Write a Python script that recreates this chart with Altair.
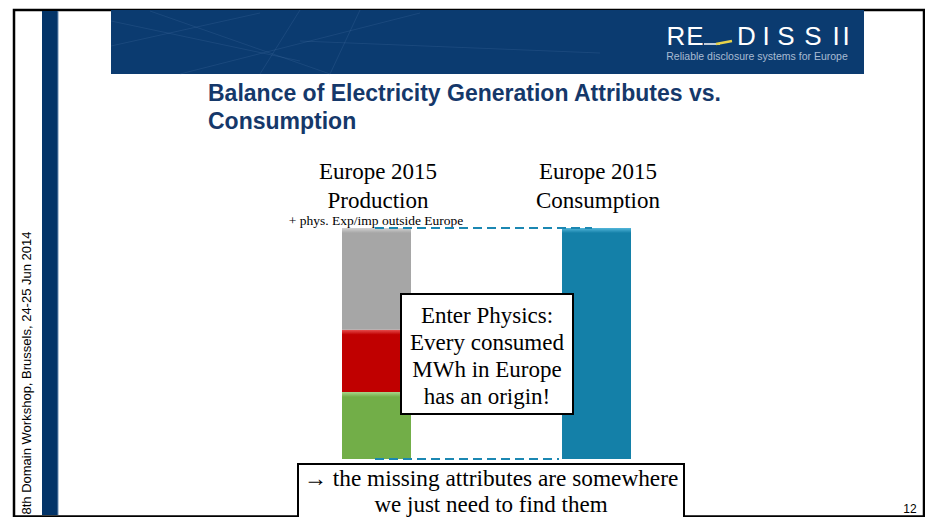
import altair as alt
import pandas as pd

# ---- data ----
columns = ["Production", "Consumption"]
segments = ["Green", "Red", "Grey", "Consumption"]
segment_column = ["Production", "Production", "Production", "Consumption"]
segment_values = [29, 27, 44, 100]
segment_order = [1, 2, 3, 1]
segment_colors = ["#72AE48", "#C00000", "#A6A6A6", "#1480A8"]
segment_highlight = ["#A8D48A", "#E85050", "#D2D2D2", "#52B6DA"]

title_lines = ["Balance of Electricity Generation Attributes vs.", "Consumption"]
col_labels = [["Europe 2015", "Production"], ["Europe 2015", "Consumption"]]
note = "+ phys. Exp/imp outside Europe"
physics_lines = ["Enter Physics:", "Every consumed", "MWh in Europe", "has an origin!"]
bottom_lines = ["\u2192 the missing attributes are somewhere", "we just need to find them"]
side_text = "8th Domain Workshop, Brussels, 24-25 Jun 2014"
page_no = "12"
logo_letters = ["R", "E", "D", "I", "S", "S", "I", "I"]
logo_sub = "Reliable disclosure systems for Europe"

df = pd.DataFrame({
    "column": segment_column,
    "segment": segments,
    "value": segment_values,
    "order": segment_order,
})

one = pd.DataFrame({"k": [0]})

def px(X):
    return X - 8

def py(Y):
    return Y - 8

def rect(x1, y1, x2, y2, fill, stroke=None, sw=0, opacity=1):
    kw = dict(fill=fill, opacity=opacity)
    if stroke:
        kw.update(stroke=stroke, strokeWidth=sw)
    else:
        kw.update(strokeWidth=0)
    return alt.Chart(one).mark_rect(**kw).encode(
        x=alt.value(px(x1)), x2=alt.value(px(x2)),
        y=alt.value(py(y1)), y2=alt.value(py(y2)))

def text(t, X, Y, size, font="Liberation Serif", color="black", align="center",
         baseline="middle", weight="normal", angle=0):
    kw = dict(text=t, fontSize=size, font=font, color=color, align=align,
              baseline=baseline, fontWeight=weight)
    if angle:
        kw["angle"] = angle
    return alt.Chart(one).mark_text(**kw).encode(
        x=alt.value(px(X)), y=alt.value(py(Y)))

def line(x1, y1, x2, y2, color, w=1, opacity=1):
    return alt.Chart(one).mark_rule(color=color, strokeWidth=w, opacity=opacity).encode(
        x=alt.value(px(x1)), x2=alt.value(px(x2)),
        y=alt.value(py(y1)), y2=alt.value(py(y2)))

layers = []
# slide frame
layers.append(rect(14, 9, 924, 515.5, "white", "black", 2.5))
# left sidebar
layers.append(rect(42, 10, 58, 514, "#033468"))
layers.append(line(58, 10, 58, 514, "#6F8FB5", 1))
# banner
layers.append(rect(111, 9, 864, 73, "#0B3B70"))
for (a, b, c, d) in [(111, 20, 300, 60), (150, 10, 330, 73), (180, 73, 420, 12),
                     (111, 45, 260, 12), (260, 73, 300, 9), (330, 73, 360, 9),
                     (300, 40, 600, 52)]:
    layers.append(line(a, b, c, d, "#5C86B8", 1, 0.18))
# logo
for ch, X in zip(logo_letters, [676, 695, 746.5, 766, 786, 813, 836, 846]):
    layers.append(text(ch, X, 44, 26, font="Liberation Sans", color="white",
                       baseline="alphabetic"))
layers.append(line(704, 43, 720, 43, "white", 1.5))
layers.append(line(716, 43, 732, 40, "#E8D24A", 2.5))
layers.append(text(logo_sub, 757, 56, 10.5, font="Liberation Sans", color="#A9BBD3"))
# title
layers.append(text(title_lines[0], 208, 93, 23, font="Liberation Sans", color="#15386A",
                   align="left", weight="bold"))
layers.append(text(title_lines[1], 208, 121, 23, font="Liberation Sans", color="#15386A",
                   align="left", weight="bold"))
# column labels
for lab, X in zip(col_labels, [378, 598]):
    layers.append(text(lab[0], X, 171, 23))
    layers.append(text(lab[1], X, 200, 23))
layers.append(text(note, 376, 220, 13.5))

# bars (stacked, one layer per segment so each gets its bevel highlight)
xs = alt.X("column:N", axis=None,
           scale=alt.Scale(domain=columns, range=[px(342), px(631)],
                           paddingInner=0.6864, paddingOuter=0))
ys = alt.Scale(domain=[0, 100], range=[py(458), py(227)], nice=False)
stacked = alt.Chart(df).transform_stack(
    stack="value", groupby=["column"], sort=[alt.SortField("order")], as_=["v0", "v1"])
px_per_unit = (458 - 227) / 100.0
for seg, val, col, hi in zip(segments, segment_values, segment_colors, segment_highlight):
    f = min(0.5, 5.0 / (val * px_per_unit))
    grad = alt.Gradient(gradient="linear", x1=0, x2=0, y1=0, y2=1, stops=[
        alt.GradientStop(color=hi, offset=0),
        alt.GradientStop(color=col, offset=f),
        alt.GradientStop(color=col, offset=1),
    ])
    layers.append(
        stacked.transform_filter(alt.datum.segment == seg)
        .mark_bar(color=grad)
        .encode(x=xs, y=alt.Y("v0:Q", axis=None, scale=ys), y2="v1:Q")
    )

# dashed balance lines
layers.append(alt.Chart(one).mark_rule(color="#1B87B2", strokeWidth=2, strokeDash=[9, 5]).encode(
    x=alt.value(px(375)), x2=alt.value(px(592)), y=alt.datum(100)))
layers.append(alt.Chart(one).mark_rule(color="#1B87B2", strokeWidth=2, strokeDash=[9, 5]).encode(
    x=alt.value(px(375)), x2=alt.value(px(559)), y=alt.datum(0)))

# physics box
layers.append(rect(401, 293, 573, 413, "white", "black", 2))
for i, t in enumerate(physics_lines):
    layers.append(text(t, 487, 315 + i * 27, 23))

# bottom box
layers.append(rect(298, 463, 684, 560, "white", "black", 2))
layers.append(text(bottom_lines[0], 491, 478, 23.3))
layers.append(text(bottom_lines[1], 491, 504, 23))

# side text and page number
layers.append(text(side_text, 27, 372, 13, font="Liberation Sans", angle=270))
layers.append(text(page_no, 910, 508, 12, font="Liberation Sans"))

chart = alt.layer(*layers).properties(
    width=917, height=509,
    autosize=alt.AutoSizeParams(type="fit", contains="padding"),
    padding=0,
    background="white",
).configure_view(stroke=None)

chart.save("out.html", embed_options={"renderer": "svg", "actions": False})
